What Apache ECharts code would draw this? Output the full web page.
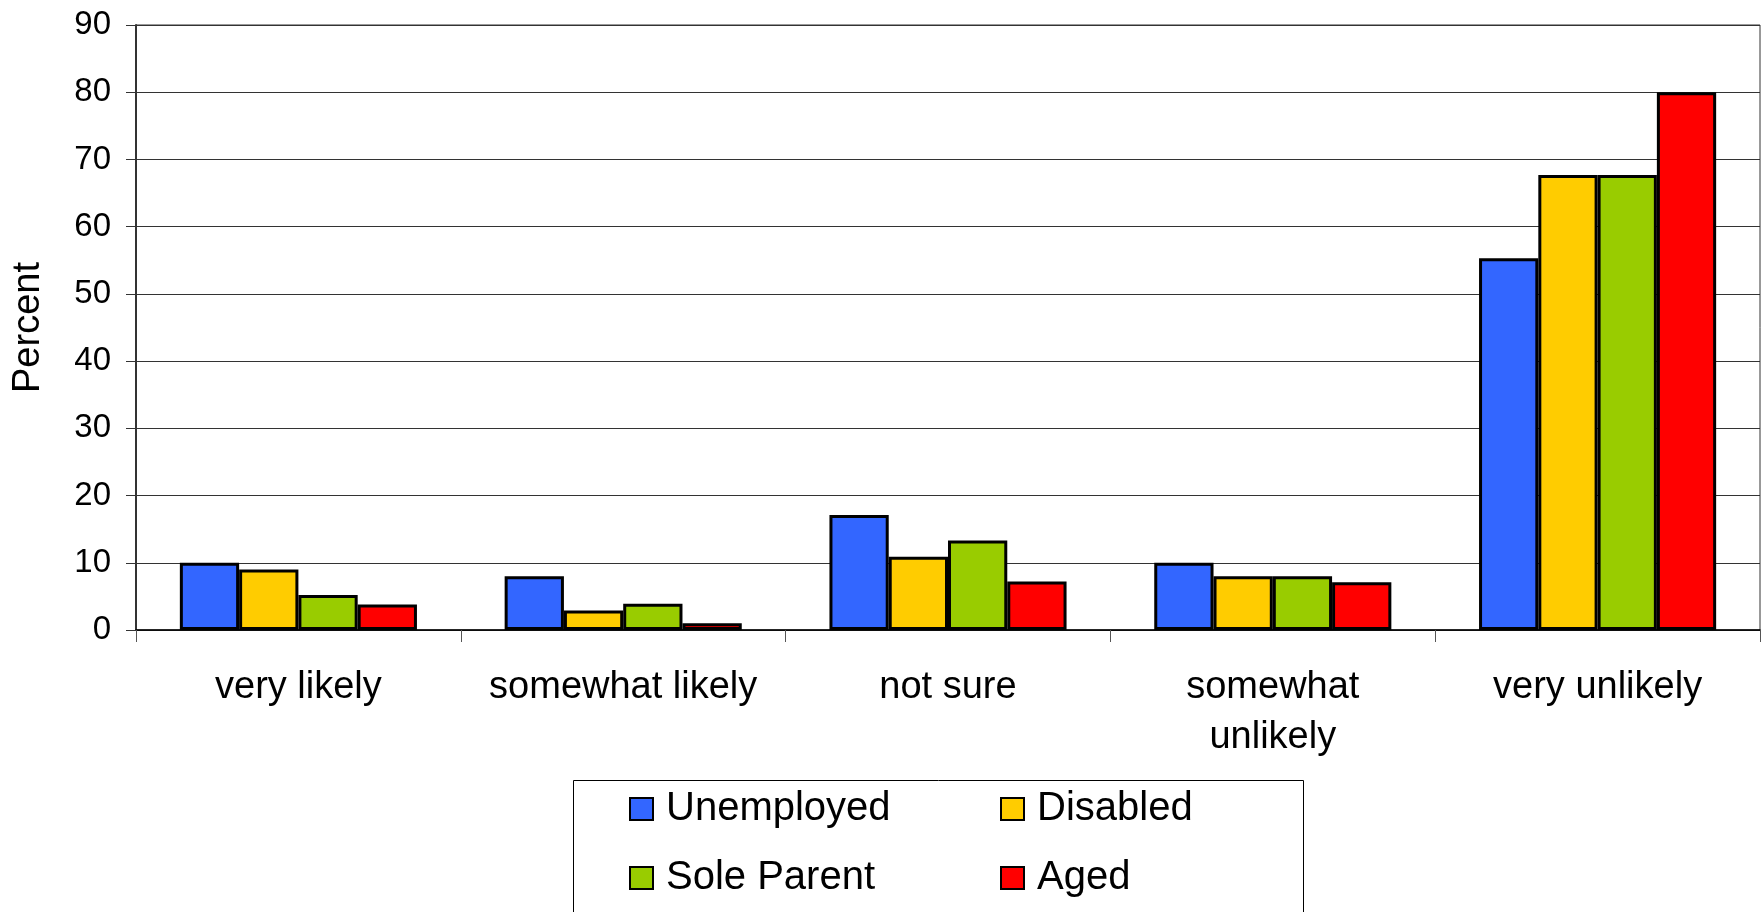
<!DOCTYPE html>
<html>
<head>
<meta charset="utf-8">
<script src="https://cdn.jsdelivr.net/npm/echarts@6/dist/echarts.min.js"></script>
<style>
html,body{margin:0;padding:0;background:#fff;}
#chart{width:1762px;height:912px;}
</style>
</head>
<body>
<div id="chart"></div>
<script>
const categories = ['very likely', 'somewhat likely', 'not sure', 'somewhat unlikely', 'very unlikely'];
const seriesNames = ['Unemployed', 'Disabled', 'Sole Parent', 'Aged'];
const unemployed = [10, 8, 17.1, 10, 55.3];
const disabled = [9, 2.9, 10.9, 8, 67.7];
const soleParent = [5.2, 3.9, 13.3, 8, 67.7];
const aged = [3.8, 1, 7.2, 7.1, 80];
const yTicks = {min: 0, max: 90, interval: 10};
const colors = ['#3366FF', '#FFCC00', '#99CC00', '#FF0000'];

const FONT = '"Liberation Sans", Arial, sans-serif';
const values = [unemployed, disabled, soleParent, aged];

const legendCommon = {
  left: 629,
  orient: 'horizontal',
  itemWidth: 23,
  itemHeight: 22,
  itemGap: 94,
  padding: 0,
  selectedMode: false,
  icon: 'rect',
  itemStyle: {borderColor: '#000', borderWidth: 2},
  textStyle: {fontFamily: FONT, fontSize: 40, color: '#000', width: 240, lineHeight: 40, padding: [0, 0, 0, 8]}
};

const chart = echarts.init(document.getElementById('chart'), null, {renderer: 'canvas'});
chart.setOption({
  animation: false,
  backgroundColor: '#fff',
  grid: {left: 136, right: 2, top: 25, bottom: 282, outerBoundsMode: 'none', containLabel: false,
         show: true, borderColor: '#333', borderWidth: 1, backgroundColor: 'transparent'},
  legend: [
    Object.assign({}, legendCommon, {top: 789, data: [seriesNames[0], seriesNames[1]]}),
    Object.assign({}, legendCommon, {top: 858, data: [seriesNames[2], seriesNames[3]]})
  ],
  graphic: [{
    type: 'rect',
    shape: {x: 573.5, y: 780.5, width: 730, height: 200},
    style: {fill: 'none', stroke: '#000', lineWidth: 1},
    silent: true
  }],
  xAxis: {
    type: 'category',
    data: categories,
    axisLine: {lineStyle: {color: '#000', width: 1.5}},
    axisTick: {show: true, length: 12, lineStyle: {color: '#555', width: 1}},
    axisLabel: {
      fontFamily: FONT, fontSize: 38, color: '#000', margin: 33, lineHeight: 50,
      interval: 0,
      formatter: v => v === 'somewhat unlikely' ? 'somewhat\nunlikely' : v
    },
    splitLine: {show: false}
  },
  yAxis: {
    type: 'value',
    min: yTicks.min, max: yTicks.max, interval: yTicks.interval,
    name: 'Percent',
    nameLocation: 'middle',
    nameGap: 88,
    nameRotate: 90,
    nameTextStyle: {fontFamily: FONT, fontSize: 38, color: '#000'},
    axisLine: {show: true, lineStyle: {color: '#333', width: 2}},
    axisTick: {show: true, length: 10, lineStyle: {color: '#333', width: 1}},
    axisLabel: {fontFamily: FONT, fontSize: 33, color: '#000', margin: 25},
    splitLine: {show: true, lineStyle: {color: '#333', width: 1}}
  },
  series: seriesNames.map((n, i) => ({
    name: n,
    type: 'bar',
    data: values[i],
    barGap: '0%',
    barCategoryGap: '27%',
    itemStyle: {color: colors[i], borderColor: '#000', borderWidth: 3},
    emphasis: {disabled: true}
  }))
});
</script>
</body>
</html>
